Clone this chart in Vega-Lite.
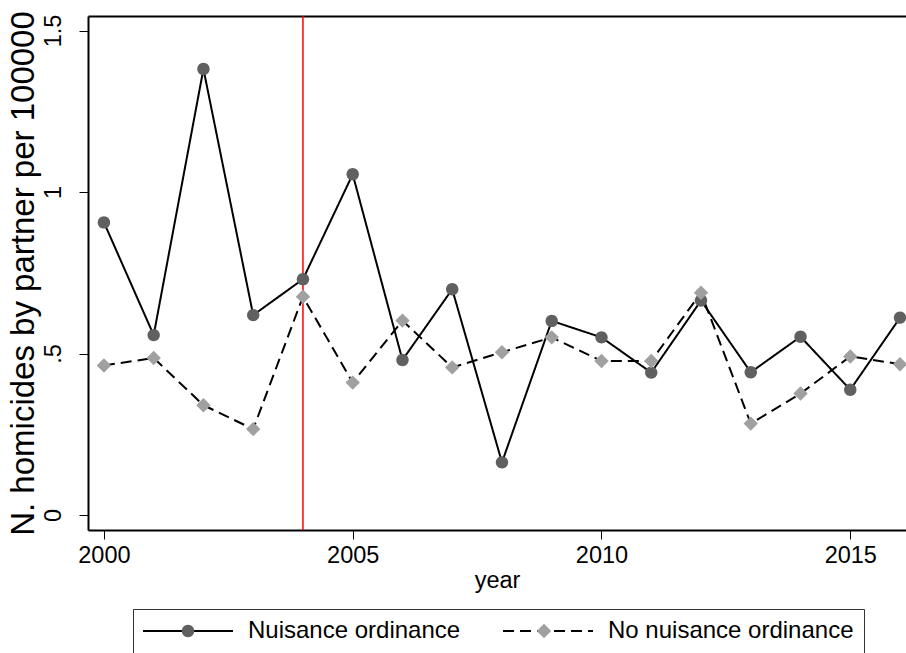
{
  "$schema": "https://vega.github.io/schema/vega-lite/v6.json",
  "width": 818,
  "height": 514,
  "autosize": {"type": "none"},
  "padding": {"left": 88, "top": 16, "right": 0, "bottom": 123},
  "background": "white",
  "config": {
    "view": {"stroke": null},
    "font": "Liberation Sans",
    "axis": {
      "grid": false,
      "domainColor": "black",
      "domainWidth": 2,
      "tickColor": "black",
      "tickWidth": 1,
      "tickSize": 9,
      "labelColor": "black",
      "labelFont": "Liberation Sans",
      "labelFontSize": 23.5,
      "labelFlush": false,
      "labelOverlap": false,
      "titleColor": "black",
      "titleFont": "Liberation Sans",
      "titleFontWeight": "normal"
    },
    "legend": {
      "orient": "none",
      "legendX": 45,
      "legendY": 593,
      "direction": "horizontal",
      "title": null,
      "labelFont": "Liberation Sans",
      "labelFontSize": 24,
      "labelColor": "black",
      "labelLimit": 400,
      "labelOffset": 48,
      "symbolOffset": 33,
      "columnPadding": 38,
      "padding": 10,
      "symbolSize": 400
    }
  },
  "datasets": {
    "rates": [
      {"year": 2000, "value": 0.906, "series": "Nuisance ordinance"},
      {"year": 2001, "value": 0.557, "series": "Nuisance ordinance"},
      {"year": 2002, "value": 1.381, "series": "Nuisance ordinance"},
      {"year": 2003, "value": 0.619, "series": "Nuisance ordinance"},
      {"year": 2004, "value": 0.730, "series": "Nuisance ordinance"},
      {"year": 2005, "value": 1.055, "series": "Nuisance ordinance"},
      {"year": 2006, "value": 0.480, "series": "Nuisance ordinance"},
      {"year": 2007, "value": 0.699, "series": "Nuisance ordinance"},
      {"year": 2008, "value": 0.163, "series": "Nuisance ordinance"},
      {"year": 2009, "value": 0.601, "series": "Nuisance ordinance"},
      {"year": 2010, "value": 0.550, "series": "Nuisance ordinance"},
      {"year": 2011, "value": 0.441, "series": "Nuisance ordinance"},
      {"year": 2012, "value": 0.664, "series": "Nuisance ordinance"},
      {"year": 2013, "value": 0.442, "series": "Nuisance ordinance"},
      {"year": 2014, "value": 0.552, "series": "Nuisance ordinance"},
      {"year": 2015, "value": 0.388, "series": "Nuisance ordinance"},
      {"year": 2016, "value": 0.611, "series": "Nuisance ordinance"},
      {"year": 2000, "value": 0.463, "series": "No nuisance ordinance"},
      {"year": 2001, "value": 0.486, "series": "No nuisance ordinance"},
      {"year": 2002, "value": 0.340, "series": "No nuisance ordinance"},
      {"year": 2003, "value": 0.266, "series": "No nuisance ordinance"},
      {"year": 2004, "value": 0.676, "series": "No nuisance ordinance"},
      {"year": 2005, "value": 0.410, "series": "No nuisance ordinance"},
      {"year": 2006, "value": 0.602, "series": "No nuisance ordinance"},
      {"year": 2007, "value": 0.457, "series": "No nuisance ordinance"},
      {"year": 2008, "value": 0.504, "series": "No nuisance ordinance"},
      {"year": 2009, "value": 0.550, "series": "No nuisance ordinance"},
      {"year": 2010, "value": 0.477, "series": "No nuisance ordinance"},
      {"year": 2011, "value": 0.477, "series": "No nuisance ordinance"},
      {"year": 2012, "value": 0.688, "series": "No nuisance ordinance"},
      {"year": 2013, "value": 0.283, "series": "No nuisance ordinance"},
      {"year": 2014, "value": 0.376, "series": "No nuisance ordinance"},
      {"year": 2015, "value": 0.491, "series": "No nuisance ordinance"},
      {"year": 2016, "value": 0.467, "series": "No nuisance ordinance"}
    ],
    "cutoff": [{"year": 2004}]
  },
  "layer": [
    {
      "data": {"name": "cutoff"},
      "mark": {"type": "rule", "color": "#ff0000", "strokeWidth": 1.5},
      "encoding": {
        "x": {
          "field": "year",
          "type": "quantitative",
          "scale": {"domain": [1999.68, 2016.12], "nice": false, "zero": false},
          "axis": {"orient": "top", "ticks": false, "labels": false, "title": null}
        }
      }
    },
    {
      "data": {"name": "rates"},
      "mark": {"type": "line", "color": "black", "strokeWidth": 2},
      "encoding": {
        "x": {
          "field": "year",
          "type": "quantitative",
          "scale": {"domain": [1999.68, 2016.12], "nice": false, "zero": false},
          "axis": {
            "orient": "bottom",
            "values": [2000, 2005, 2010, 2015],
            "format": "d",
            "labelPadding": 4,
            "title": "year",
            "titleFontSize": 23.5,
            "titlePadding": 2
          }
        },
        "y": {
          "field": "value",
          "type": "quantitative",
          "scale": {"domain": [-0.0464, 1.545], "nice": false, "zero": false},
          "axis": {
            "values": [0, 0.5, 1, 1.5],
            "labelExpr": "datum.value == 0 ? '0' : datum.value == 0.5 ? '.5' : datum.value == 1 ? '1' : '1.5'",
            "labelAngle": -90,
            "labelAlign": "center",
            "labelBaseline": "alphabetic",
            "labelPadding": 19,
            "title": "N. homicides by partner per 100000",
            "titleFontSize": 33,
            "titlePadding": 1
          }
        },
        "strokeDash": {
          "field": "series",
          "type": "nominal",
          "sort": ["Nuisance ordinance", "No nuisance ordinance"],
          "scale": {"range": [[1, 0], [11, 6]]},
          "legend": {
            "strokeColor": "#333333",
            "fillColor": "white",
            "symbolType": "M-4.5,0H4.5",
            "symbolStrokeColor": "black",
            "symbolStrokeWidth": 2,
            "zindex": 1
          }
        }
      }
    },
    {
      "data": {"name": "rates"},
      "mark": {"type": "point", "filled": true, "opacity": 1, "strokeWidth": 0, "size": 400},
      "encoding": {
        "x": {
          "field": "year",
          "type": "quantitative",
          "scale": {"domain": [1999.68, 2016.12], "nice": false, "zero": false},
          "axis": null
        },
        "y": {
          "field": "value",
          "type": "quantitative",
          "scale": {"domain": [-0.0464, 1.545], "nice": false, "zero": false},
          "axis": {
            "values": [0, 0.5, 1, 1.5],
            "labelExpr": "datum.value == 0 ? '0' : datum.value == 0.5 ? '.5' : datum.value == 1 ? '1' : '1.5'",
            "labelAngle": -90,
            "labelAlign": "center",
            "labelBaseline": "alphabetic",
            "labelPadding": 19,
            "title": "N. homicides by partner per 100000",
            "titleFontSize": 33,
            "titlePadding": 1
          }
        },
        "fill": {
          "field": "series",
          "type": "nominal",
          "scale": {
            "domain": ["Nuisance ordinance", "No nuisance ordinance"],
            "range": ["#606060", "#a0a0a0"]
          },
          "legend": {"labelOpacity": 0, "symbolStrokeWidth": 0, "zindex": 2}
        },
        "shape": {
          "field": "series",
          "type": "nominal",
          "scale": {
            "domain": ["Nuisance ordinance", "No nuisance ordinance"],
            "range": [
              "M-0.62,0A0.62,0.62 0 1,1 0.62,0A0.62,0.62 0 1,1 -0.62,0Z",
              "M-0.72,0L0,-0.72L0.72,0L0,0.72Z"
            ]
          },
          "legend": {"labelOpacity": 0, "symbolStrokeWidth": 0, "zindex": 2}
        }
      }
    }
  ],
  "resolve": {"axis": {"x": "independent"}}
}
